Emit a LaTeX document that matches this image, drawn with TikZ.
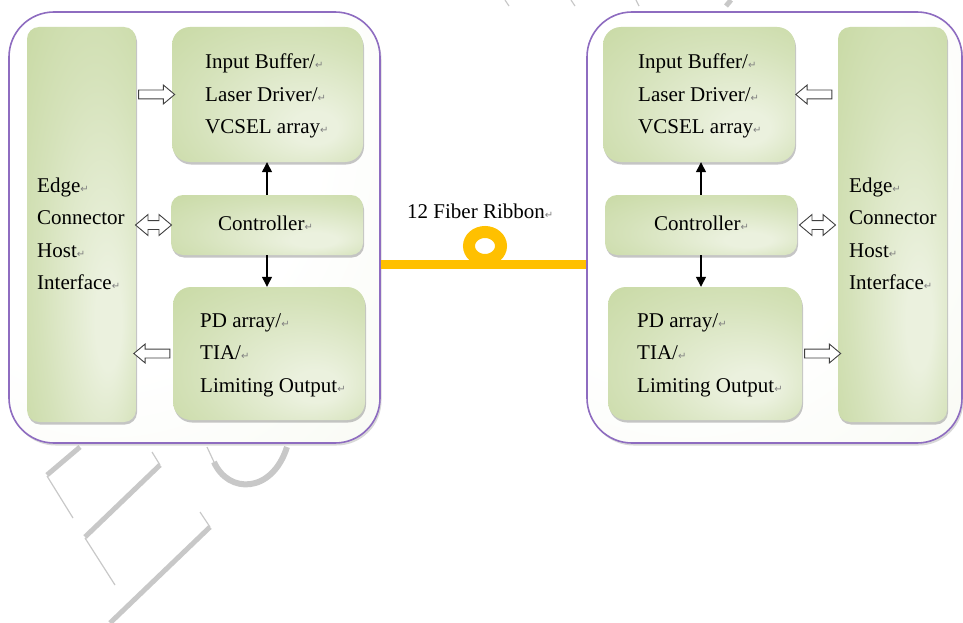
\documentclass[tikz,border=0pt]{standalone}
\usepackage{fontspec}
\setmainfont{Liberation Serif}
\newfontfamily\symfont{DejaVu Sans}
\usetikzlibrary{shapes.arrows,shapes.geometric,arrows.meta,shadows,calc}
\definecolor{gd}{HTML}{C0D496}
\definecolor{gm}{HTML}{D5E2BA}
\definecolor{gl}{HTML}{EBF1DE}
\definecolor{ol}{HTML}{EBF1DE}
\definecolor{purp}{HTML}{8E6CC0}
\definecolor{fib}{HTML}{FFC000}
\definecolor{wm}{HTML}{C8C8C8}
\pgfdeclareradialshading{boxshade}{\pgfpoint{14bp}{-14bp}}{color(0bp)=(gl); color(6bp)=(gl); color(26bp)=(gm); color(50bp)=(gd)}
\pgfdeclareradialshading{outershade}{\pgfpoint{-20bp}{20bp}}{color(0bp)=(white); color(30bp)=(white); color(85bp)=(ol)}
\newcommand\parmk{{\symfont\color{gray}\fontsize{10}{10}\selectfont ↵}}
\tikzset{
  outerbox/.style={draw=purp, line width=1.6pt, rounded corners=45pt, shading=outershade,
    drop shadow={shadow xshift=1.5pt, shadow yshift=-2.5pt, fill=black!30}},
  gbox/.style={rounded corners=#1, shading=boxshade,
    drop shadow={shadow xshift=1pt, shadow yshift=-2.5pt, fill=black!50, opacity=.45}},
  gbox/.default=18pt,
  txt/.style={font=\fontsize{21}{32.5}\selectfont, align=left, anchor=west, inner sep=0pt},
  ctl/.style={-{Triangle[width=10pt,length=10pt]}, line width=1.3pt},
  harrow/.style={single arrow, draw=black!75, fill=white, line width=0.9pt, minimum height=36pt,
    minimum width=18pt, single arrow head extend=5pt, single arrow tip angle=80, inner sep=4pt},
  darrow/.style={double arrow, draw=black!75, fill=white, line width=0.9pt, minimum height=36pt,
    minimum width=20pt, double arrow head extend=6pt, double arrow tip angle=80, inner sep=4pt},
  wmthick/.style={wm, line width=5pt},
  wmthin/.style={wm, line width=1.2pt}
}
\begin{document}
\begin{tikzpicture}[x=1pt,y=-1pt]
\useasboundingbox (0,0) rectangle (963,623);
% watermark
\draw[wmthick] (80,447) -- (47,475);
\draw[wmthin] (47,476) -- (73,518);
\draw[wmthin] (152,452) -- (160,465);
\draw[wmthick] (160,465) -- (85,537);
\draw[wmthin] (85,538) -- (115,585);
\draw[wmthin] (200,512) -- (210,527);
\draw[wmthick] (210,527) -- (110,623);
\draw[wmthin] (207,447) -- (214,462);
\draw[wm, line width=6pt] (214,462) .. controls (228,494) and (272,494) .. (287,447);
\draw[wmthin] (505,0) -- (509,6);
\draw[wmthin] (571,0) -- (575,6);
\draw[wmthin] (636,0) -- (639,6);
\draw[wmthick] (731,0) -- (726,6);

% left module
\node[outerbox, minimum width=371pt, minimum height=431pt] (outerL) at (194.5,227.5) {};
\node[gbox=12pt, minimum width=109pt, minimum height=395pt] (edgeL) at (81.5,224.5) {};
\node[gbox, minimum width=191pt, minimum height=135pt] (inL) at (267.5,94.5) {};
\node[gbox=12pt, minimum width=192pt, minimum height=60pt] (ctrlL) at (267,225) {};
\node[gbox, minimum width=192pt, minimum height=133pt] (pdL) at (269,353.5) {};
\node[txt] (edgeLt) at (37,234) {Edge\parmk\\Connector\\Host\parmk\\Interface\parmk};
\node[txt] (inLt) at (205,96) {Input Buffer/\parmk\\Laser Driver/\parmk\\VCSEL array\parmk};
\node[txt] (ctrlLt) at (218,223) {Controller\parmk};
\node[txt] (pdLt) at (200,355) {PD array/\parmk\\TIA/\parmk\\Limiting Output\parmk};
\draw[ctl] (ctrlL.north) -- (ctrlL.north |- inL.south);
\draw[ctl] (ctrlL.south) -- (ctrlL.south |- pdL.north);
\path (edgeL.east |- inL.west) -- (inL.west) node[midway, harrow] (aL1) {};
\path (edgeL.east |- ctrlL.west) -- (ctrlL.west) node[midway, darrow] (aL2) {};
\path (edgeL.east |- pdL.west) -- (pdL.west) node[midway, harrow, shape border rotate=180] (aL3) {};

% right module
\node[outerbox, minimum width=375pt, minimum height=431pt] (outerR) at (774.5,227.5) {};
\node[gbox, minimum width=192pt, minimum height=135pt] (inR) at (699,94.5) {};
\node[gbox=12pt, minimum width=192pt, minimum height=60pt] (ctrlR) at (701,225) {};
\node[gbox, minimum width=194pt, minimum height=133pt] (pdR) at (705,353.5) {};
\node[gbox=12pt, minimum width=109pt, minimum height=395pt] (edgeR) at (892.5,224.5) {};
\node[txt] (edgeRt) at (849,234) {Edge\parmk\\Connector\\Host\parmk\\Interface\parmk};
\node[txt] (inRt) at (638,96) {Input Buffer/\parmk\\Laser Driver/\parmk\\VCSEL array\parmk};
\node[txt] (ctrlRt) at (654,223) {Controller\parmk};
\node[txt] (pdRt) at (637,355) {PD array/\parmk\\TIA/\parmk\\Limiting Output\parmk};
\draw[ctl] (ctrlR.north) -- (ctrlR.north |- inR.south);
\draw[ctl] (ctrlR.south) -- (ctrlR.south |- pdR.north);
\path (inR.east) -- (edgeR.west |- inR.east) node[midway, harrow, shape border rotate=180] (aR1) {};
\path (ctrlR.east) -- (edgeR.west |- ctrlR.east) node[midway, darrow] (aR2) {};
\path (pdR.east) -- (edgeR.west |- pdR.east) node[midway, harrow] (aR3) {};

% fiber
\coordinate (fa) at (outerL.east |- 0,264.5);
\coordinate (fb) at (outerR.west |- 0,264.5);
\draw[fib, line width=9pt] (fa) -- (fb);
\node[draw=fib, line width=12pt, ellipse, minimum width=32pt, minimum height=28pt, inner sep=0pt] (loop) at (485,246) {};
\node[txt] (fibt) at (407,211) {12 Fiber Ribbon\parmk};
\end{tikzpicture}
\end{document}
